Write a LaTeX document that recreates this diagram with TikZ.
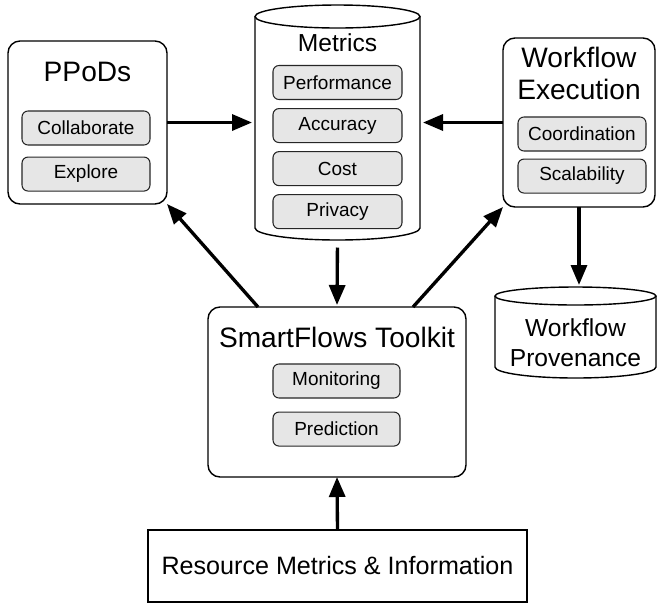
\documentclass[tikz,border=0pt]{standalone}
\usepackage{fontspec}
\setmainfont{Liberation Sans}
\usetikzlibrary{arrows.meta,positioning}
\definecolor{btngray}{HTML}{E6E6E6}
% cylinder outline round an empty node: name, x radius, top y radius, bottom y radius
\newcommand{\drawdb}[4]{%
	\draw[dbline] ([yshift=-#3]#1.north west) -- ([yshift=#4]#1.south west)
		arc[start angle=180, end angle=360, x radius=#2, y radius=#4]
		-- ([yshift=-#3]#1.north east);
	\draw[dbline] ([yshift=-#3]#1.north) ellipse[x radius=#2, y radius=#3];
}
\tikzset{
	panel/.style={draw, line width=0.8pt, rounded corners=0.24cm, fill=white, inner sep=0pt, outer sep=0pt},
	dbbox/.style={inner sep=0pt, outer sep=0pt},
	dbline/.style={line width=0.8pt, fill=white},
	btn/.style={draw=black!85, line width=0.6pt, fill=btngray, rounded corners=0.12cm,
		minimum width=2.56cm, minimum height=0.68cm, inner sep=0pt, font=\fontsize{10.8}{13}\selectfont},
	title/.style={inner sep=0pt, align=center, font=\fontsize{16}{18.7}\selectfont},
	flow/.style={-{Triangle[length=0.4cm,width=0.32cm]}, line width=1.9pt},
}
\begin{document}
\begin{tikzpicture}
	\useasboundingbox (0,0) rectangle (13.18,-12.08);
	% PPoDs
	\node[panel, minimum width=3.18cm, minimum height=3.26cm] (ppods) at (1.75,-2.45) {};
	\node[title] (ppodstitle) at (1.75,-1.44) {PPoDs};
	\node[btn] (collab) at (1.72,-2.56) {Collaborate};
	\node[btn, below=0.22cm of collab] (explore) {Explore};
	% Metrics store
	\node[dbbox, minimum width=3.3cm, minimum height=4.7cm] (metrics) at (6.75,-2.45) {};
	\drawdb{metrics}{1.65cm}{0.23cm}{0.24cm}
	\node[title, font=\fontsize{14}{17}\selectfont] (metricstitle) at (6.75,-0.86) {Metrics};
	\node[btn, minimum width=2.58cm] (perf) at (6.75,-1.65) {Performance};
	\node[btn, minimum width=2.58cm, below=0.16cm of perf] (acc) {Accuracy};
	\node[btn, minimum width=2.58cm, below=0.16cm of acc] (cost) {Cost};
	\node[btn, minimum width=2.58cm, below=0.16cm of cost] (priv) {Privacy};
	% Workflow execution
	\node[panel, minimum width=3.04cm, minimum height=3.38cm] (wfexec) at (11.58,-2.45) {};
	\node[title] (wftitle) at (11.58,-1.47) {Workflow\\Execution};
	\node[btn] (coord) at (11.64,-2.68) {Coordination};
	\node[btn, below=0.14cm of coord] (scale) {Scalability};
	% Workflow provenance store
	\node[dbbox, minimum width=3.22cm, minimum height=1.82cm] (prov) at (11.51,-6.65) {};
	\drawdb{prov}{1.61cm}{0.18cm}{0.22cm}
	\node[title, font=\fontsize{14}{17}\selectfont] (provtext) at (11.51,-6.86) {Workflow\\Provenance};
	% SmartFlows toolkit
	\node[panel, minimum width=5.16cm, minimum height=3.4cm] (smart) at (6.74,-7.84) {};
	\node[title] (smarttitle) at (6.74,-6.74) {SmartFlows Toolkit};
	\node[btn, minimum width=2.54cm] (monitor) at (6.73,-7.62) {Monitoring};
	\node[btn, minimum width=2.54cm, below=0.26cm of monitor] (predict) {Prediction};
	% Resource metrics
	\node[draw, line width=0.8pt, minimum width=7.58cm, minimum height=1.44cm, inner sep=0pt, outer sep=0pt,
		font=\fontsize{14.3}{17}\selectfont] (resource) at (6.75,-11.32) {Resource Metrics \& Information};
	% Connectors
	\draw[flow, shorten >=0.06cm] (ppods.east) -- (metrics.west);
	\draw[flow, shorten >=0.06cm] (wfexec.west) -- (metrics.east);
	\draw[flow, shorten <=0.15cm, shorten >=0.04cm] (metrics.south) -- (smart.north);
	\draw[flow] ([xshift=1cm]smart.north west) -- (ppods.south east);
	\draw[flow] ([xshift=-1.06cm]smart.north east) -- (wfexec.south west);
	\draw[flow, shorten >=0.04cm] (wfexec.south) -- (wfexec.south |- prov.north);
	\draw[flow] (resource.north) -- (smart.south);
\end{tikzpicture}
\end{document}
